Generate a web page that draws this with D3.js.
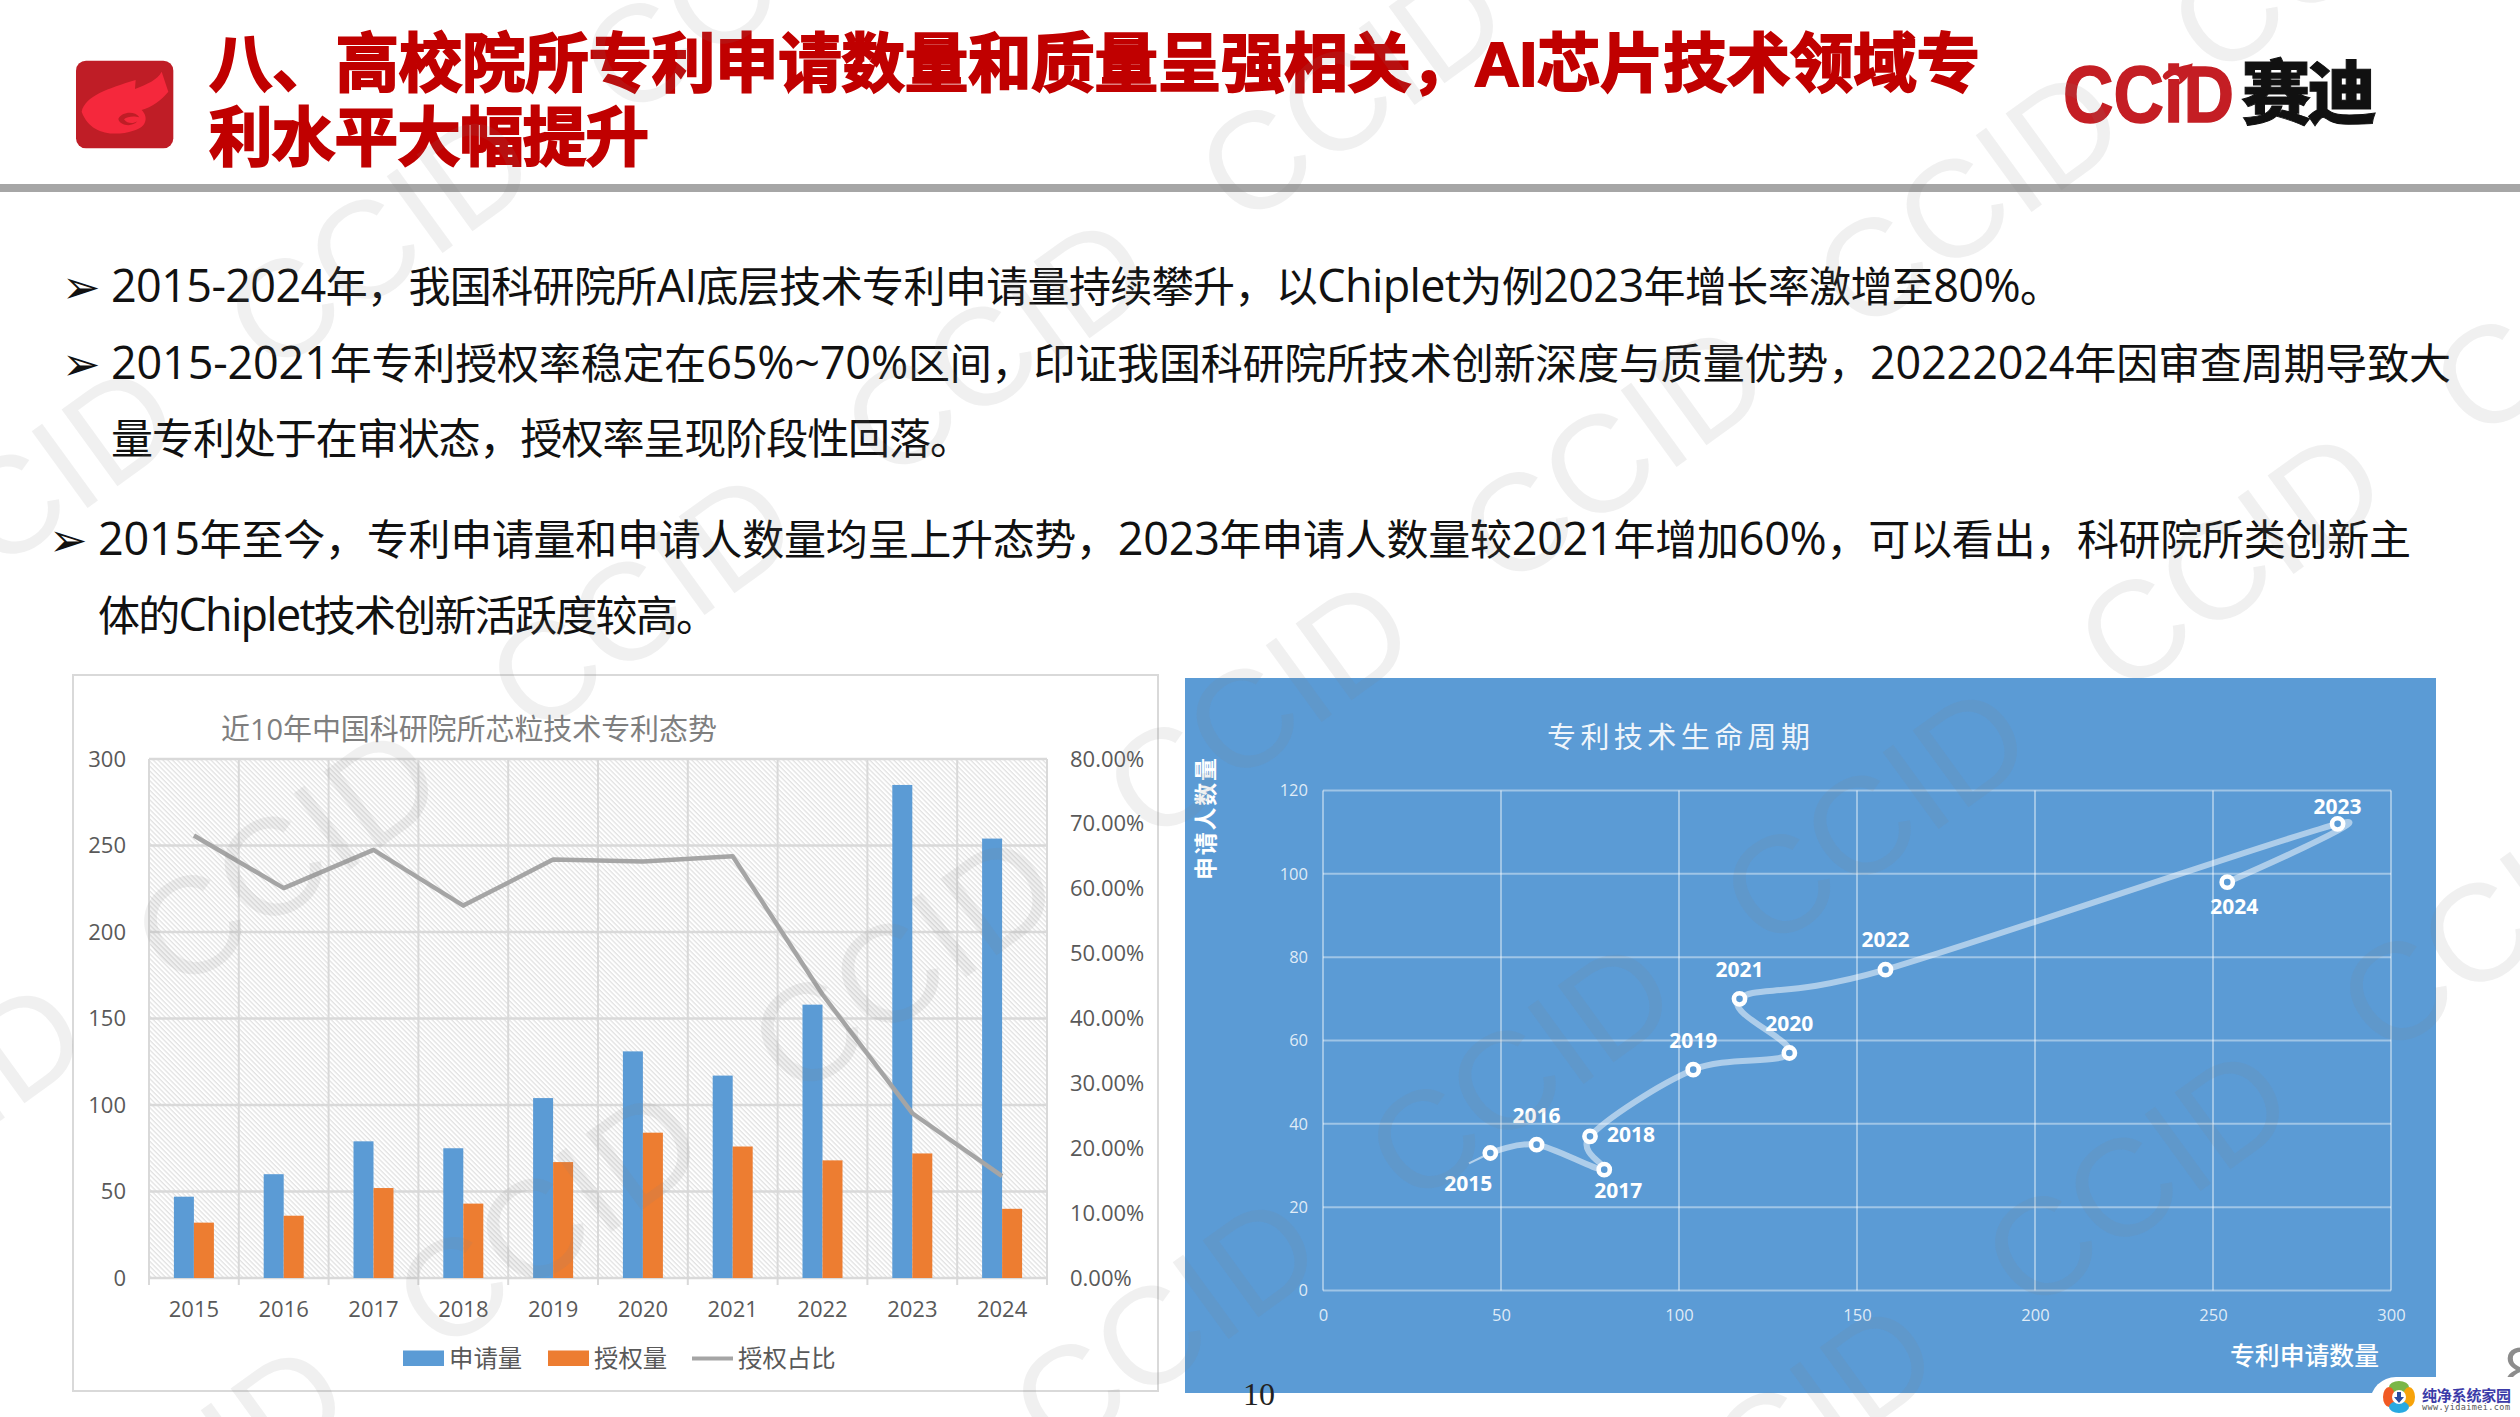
<!DOCTYPE html>
<html lang="zh-CN">
<head>
<meta charset="utf-8">
<title>高校院所专利</title>
<script src="https://cdn.jsdelivr.net/npm/d3@7/dist/d3.min.js"></script>
<style>
html,body{margin:0;padding:0;background:#fff;overflow:hidden}
svg{display:block}
text{font-family:"Open Sans","Noto Sans CJK SC",sans-serif}
</style>
</head>
<body>
<svg id="c" width="2520" height="1417" viewBox="0 0 2520 1417"></svg>
<script>
const years = ["2015","2016","2017","2018","2019","2020","2021","2022","2023","2024"];
const applied = [47,60,79,75,104,131,117,158,285,254];
const granted = [32,36,52,43,67,84,76,68,72,40];
const grantRatio = [0.682,0.601,0.66,0.574,0.645,0.642,0.65,0.437,0.254,0.157];
const applicants = [33,35,29,37,53,57,70,77,112,98];
const leadX = [41], leadY = [30.5];
const leftTicks = [0,50,100,150,200,250,300];
const rightTicks = [0,0.1,0.2,0.3,0.4,0.5,0.6,0.7,0.8];
const lifeXTicks = [0,50,100,150,200,250,300];
const lifeYTicks = [0,20,40,60,80,100,120];
const barSeries = ["申请量","授权量"];
const barColors = ["#5b9bd5","#ed7d31"];
const titleLines = ["八、高校院所专利申请数量和质量呈强相关，AI芯片技术领域专","利水平大幅提升"];
const bodyLines = [
 "2015-2024年，我国科研院所AI底层技术专利申请量持续攀升，以Chiplet为例2023年增长率激增至80%。",
 "2015-2021年专利授权率稳定在65%~70%区间，印证我国科研院所技术创新深度与质量优势，20222024年因审查周期导致大",
 "量专利处于在审状态，授权率呈现阶段性回落。",
 "2015年至今，专利申请量和申请人数量均呈上升态势，2023年申请人数量较2021年增加60%，可以看出，科研院所类创新主",
 "体的Chiplet技术创新活跃度较高。"
];

const svg = d3.select("#c");
const defs = svg.append("defs");
const hatch = defs.append("pattern").attr("id","hatch").attr("width",3.4).attr("height",3.4)
  .attr("patternUnits","userSpaceOnUse").attr("patternTransform","rotate(45)");
hatch.append("rect").attr("width",3.4).attr("height",3.4).attr("fill","#fff");
hatch.append("rect").attr("width",3.4).attr("height",1.3).attr("fill","#e2e2e2");

/* ---------- header ---------- */
const head = svg.append("g");
const logo = head.append("g").attr("transform","translate(40,20) scale(.3333)");
logo.append("rect").attr("x",108).attr("y",122).attr("width",292).attr("height",263).attr("rx",30).attr("fill","#bf1d26");
logo.append("path").attr("fill","#f5283c")
  .attr("d","M125 275C135 228 205 205 287 180L285 207C322 192 352 180 365 155L385 215C365 240 335 262 305 270C325 290 322 322 280 332C225 350 150 345 125 275Z");
logo.append("path").attr("fill","#bf1d26")
  .attr("d","M235 297C245 275 285 272 298 292C285 288 262 288 252 298C262 312 280 312 292 304C278 322 240 318 235 297Z");

titleLines.forEach((t,i)=>{
  head.append("text").text(t).attr("x",209).attr("y",i?160:86)
    .attr("font-size",63.5).attr("font-weight",700).attr("fill","#c00000").attr("stroke","#c00000").attr("stroke-width",2)
    .attr("textLength",i?440:1771).attr("lengthAdjust","spacing")
    .style("font-family",'"Liberation Sans","Noto Sans CJK SC",sans-serif');
});
head.append("text").text("CCiD").attr("x",2063).attr("y",122).attr("font-size",80).attr("font-weight",700)
  .attr("fill","#c41e24").attr("stroke","#c41e24").attr("stroke-width",1.5)
  .attr("textLength",171).attr("lengthAdjust","spacingAndGlyphs").style("font-family",'"Liberation Sans",sans-serif');
head.append("path").attr("fill","#c41e24").attr("transform","translate(2030,40) scale(.3333)")
  .attr("d","M398 110C405 85 440 85 488 70C485 100 470 122 445 135C455 110 440 100 425 108C412 115 408 128 398 110Z");
head.append("text").text("赛迪").attr("x",2241).attr("y",119).attr("font-size",70).attr("font-weight",900)
  .attr("fill","#111").attr("stroke","#111").attr("stroke-width",1).attr("textLength",136).attr("lengthAdjust","spacing");
head.append("rect").attr("x",0).attr("y",184).attr("width",2520).attr("height",8).attr("fill","#a6a6a6");

/* ---------- body text ---------- */
const bodyLayout = [
 {x:111,y:302,w:1951,b:66},{x:111,y:379,w:2340,b:66},{x:111,y:454,w:861},
 {x:98,y:555,w:2313,b:53},{x:98,y:631,w:620}
];
bodyLines.forEach((t,i)=>{
  const l = bodyLayout[i];
  const node = svg.append("text").attr("x",l.x).attr("y",l.y).attr("font-size",42).attr("fill","#111")
    .attr("textLength",l.w).attr("lengthAdjust","spacing");
  t.split(/([A-Za-z0-9%~\-]+)/).filter(s=>s.length).forEach(part=>{
    node.append("tspan").text(part).attr("font-size",/^[A-Za-z0-9%~\-]/.test(part)?45:42);
  });
  if(l.b!==undefined) svg.append("text").text("➢").attr("x",l.b-4).attr("y",l.y+1).attr("font-size",46).attr("fill","#111")
    .style("font-family",'"DejaVu Sans",sans-serif');
});

/* ---------- left chart ---------- */
const L = {l:149,r:1047,t:759,b:1278};
const left = svg.append("g");
left.append("rect").attr("x",73).attr("y",675).attr("width",1085).attr("height",716).attr("fill","#fff").attr("stroke","#d9d9d9").attr("stroke-width",2);
const x0 = d3.scaleBand().domain(years).range([L.l,L.r]);
const x1 = d3.scaleBand().domain(barSeries).range([0,x0.bandwidth()]).paddingInner(0).paddingOuter(1.245);
const yL = d3.scaleLinear().domain([0,300]).range([L.b,L.t]);
const yR = d3.scaleLinear().domain([0,0.8]).range([L.b,L.t]);
left.append("rect").attr("x",L.l).attr("y",L.t).attr("width",L.r-L.l).attr("height",L.b-L.t).attr("fill","url(#hatch)");
left.append("g").selectAll("line").data(leftTicks).join("line")
  .attr("x1",L.l).attr("x2",L.r).attr("y1",d=>yL(d)).attr("y2",d=>yL(d)).attr("stroke","#d9d9d9").attr("stroke-width",2.4);
left.append("g").selectAll("line").data(years.concat("end")).join("line")
  .attr("x1",(d,i)=>L.l+i*x0.step()).attr("x2",(d,i)=>L.l+i*x0.step())
  .attr("y1",L.t).attr("y2",L.b+7).attr("stroke","#d9d9d9").attr("stroke-width",2);

const axL = left.append("g").attr("transform",`translate(${L.l},0)`).call(d3.axisLeft(yL).tickValues(leftTicks).tickSize(0).tickPadding(23));
const axR = left.append("g").attr("transform",`translate(${L.r},0)`).call(d3.axisRight(yR).tickValues(rightTicks).tickSize(0).tickPadding(23).tickFormat(d3.format(".2%")));
const axB = left.append("g").attr("transform",`translate(0,${L.b})`).call(d3.axisBottom(x0).tickSize(0).tickPadding(23.5));
[axL,axR,axB].forEach(a=>{a.select(".domain").remove();a.selectAll("text").attr("font-size",22).attr("fill","#595959").style("font-family",'"Open Sans",sans-serif');});

barSeries.forEach((s,k)=>{
  const vals = k?granted:applied;
  left.append("g").selectAll("rect").data(years).join("rect")
    .attr("x",d=>x0(d)+x1(s)).attr("width",x1.bandwidth())
    .attr("y",(d,i)=>yL(vals[i])).attr("height",(d,i)=>yL(0)-yL(vals[i])).attr("fill",barColors[k]);
});
left.append("path").datum(years).attr("fill","none").attr("stroke","#a5a5a5").attr("stroke-width",4.5).attr("stroke-linejoin","round")
  .attr("d",d3.line().x(d=>x0(d)+x0.bandwidth()/2).y((d,i)=>yR(grantRatio[i])));

left.append("text").attr("x",221).attr("y",739.5).attr("font-size",29).attr("fill","#7f7f7f")
  .attr("textLength",496).attr("lengthAdjust","spacing").text("近10年中国科研院所芯粒技术专利态势");

const legendY = 1357.5;
const lg = left.append("g").attr("font-size",24.4).attr("fill","#595959");
[[403,"申请量",barColors[0]],[548,"授权量",barColors[1]]].forEach(([lx,t,c])=>{
  lg.append("rect").attr("x",lx).attr("y",legendY-7).attr("width",41).attr("height",15.5).attr("fill",c);
  lg.append("text").attr("x",lx+46).attr("y",legendY+9).text(t);
});
lg.append("line").attr("x1",692).attr("x2",733).attr("y1",legendY+1).attr("y2",legendY+1).attr("stroke","#a5a5a5").attr("stroke-width",4);
lg.append("text").attr("x",738).attr("y",legendY+9).text("授权占比");

/* ---------- right chart ---------- */
const R = {l:1323,r:2391,t:790.5,b:1290.5};
const right = svg.append("g");
right.append("rect").attr("x",1185).attr("y",678).attr("width",1251).attr("height",715).attr("fill","#5b9bd5");
const xS = d3.scaleLinear().domain([0,300]).range([R.l,R.r]);
const yS = d3.scaleLinear().domain([0,120]).range([R.b,R.t]);
right.append("g").selectAll("line").data(lifeYTicks).join("line")
  .attr("x1",R.l).attr("x2",R.r).attr("y1",d=>yS(d)).attr("y2",d=>yS(d)).attr("stroke","#fff").attr("stroke-opacity",.42).attr("stroke-width",2);
right.append("g").selectAll("line").data(lifeXTicks).join("line")
  .attr("x1",d=>xS(d)).attr("x2",d=>xS(d)).attr("y1",R.t).attr("y2",R.b).attr("stroke","#fff").attr("stroke-opacity",.42).attr("stroke-width",2);
const axX = right.append("g").attr("transform",`translate(0,${R.b})`).call(d3.axisBottom(xS).tickValues(lifeXTicks).tickSize(0).tickPadding(18.5));
const axY = right.append("g").attr("transform",`translate(${R.l},0)`).call(d3.axisLeft(yS).tickValues(lifeYTicks).tickSize(0).tickPadding(15));
[axX,axY].forEach(a=>{a.select(".domain").remove();a.selectAll("text").attr("font-size",16.5).attr("fill","#fff").attr("fill-opacity",.82).style("font-family",'"Open Sans",sans-serif');});

right.append("path").datum(leadX.map((d,i)=>[d,leadY[i]]).concat([[applied[0],applicants[0]]]))
  .attr("fill","none").attr("stroke","#fff").attr("stroke-opacity",.55).attr("stroke-width",2)
  .attr("d",d3.line().x(d=>xS(d[0])).y(d=>yS(d[1])));
right.append("path").datum(years).attr("fill","none").attr("stroke","#fff").attr("stroke-opacity",.5).attr("stroke-width",6).attr("stroke-linecap","round")
  .attr("d",d3.line().x((d,i)=>xS(applied[i])).y((d,i)=>yS(applicants[i])).curve(d3.curveCatmullRom.alpha(0)));
right.append("g").selectAll("circle").data(years).join("circle")
  .attr("cx",(d,i)=>xS(applied[i])).attr("cy",(d,i)=>yS(applicants[i])).attr("r",5.6)
  .attr("fill","#5b9bd5").attr("stroke","#fff").attr("stroke-width",4.6);

const labelShift = {"2015":[-22,30],"2016":[0,-30],"2017":[14,20],"2018":[41,-2],"2019":[0,-30],"2020":[0,-30],"2021":[0,-30],"2022":[0,-31],"2023":[0,-18],"2024":[7,24]};
right.append("g").selectAll("text").data(years).join("text").text(d=>d)
  .attr("x",(d,i)=>xS(applied[i])+labelShift[d][0]).attr("y",(d,i)=>yS(applicants[i])+labelShift[d][1]+8)
  .attr("text-anchor","middle").attr("font-size",21).attr("font-weight",700).attr("fill","#fff");

right.append("text").text("专利技术生命周期").attr("x",1547).attr("y",747.5).attr("font-size",29).attr("fill","#fff").attr("fill-opacity",.92)
  .attr("textLength",263).attr("lengthAdjust","spacing");
right.append("text").text("专利申请数量").attr("x",2230).attr("y",1365).attr("font-size",24.8).attr("font-weight",500).attr("fill","#fff")
  .attr("textLength",149).attr("lengthAdjust","spacing");
right.append("text").text("申请人数量").attr("transform","translate(1214,880) rotate(-90)").attr("font-size",23).attr("font-weight",700).attr("fill","#fff")
  .attr("textLength",122).attr("lengthAdjust","spacing");

/* ---------- page furniture ---------- */
svg.append("text").text("10").attr("x",1243).attr("y",1405).attr("font-size",32).attr("fill","#222").style("font-family",'"Liberation Serif",serif');
svg.append("text").text("8").attr("x",2503).attr("y",1394).attr("font-size",64).attr("fill","#8c8c8c");

/* ---------- CCID watermark ---------- */
const mark = svg.append("g");
const wmI = d3.range(-6,8), wmJ = d3.range(-3,5);
wmI.forEach(i=>wmJ.forEach(j=>{
  const px = 1350+355*i+262*j, py = 90-255*i+362*j;
  if(px<-200||px>2720||py<-200||py>1620) return;
  mark.append("text").text("CCID").attr("transform",`translate(${px},${py}) rotate(-36)`)
    .attr("text-anchor","middle").attr("dy",50).attr("font-size",138)
    .attr("fill","#808080").attr("fill-opacity",.12).style("font-family",'"Liberation Sans",sans-serif');
}));

/* ---------- corner badge ---------- */
const badge = svg.append("g");
badge.append("rect").attr("x",2370).attr("y",1377).attr("width",170).attr("height",60).attr("rx",26).attr("fill","#fff");
const petal = [[0,-10,"#7ab648"],[-10,0,"#f15a24"],[10,0,"#f7a30a"],[0,10,"#29a9e1"]];
badge.selectAll("ellipse").data(petal).join("ellipse").attr("cx",d=>2399+d[0]).attr("cy",d=>1397+d[1])
  .attr("rx",d=>d[0]?6:10).attr("ry",d=>d[0]?10:6).attr("fill",d=>d[2]);
badge.append("circle").attr("cx",2399).attr("cy",1397).attr("r",7).attr("fill","#fff");
badge.append("path").attr("d","M2397 1392h4v5h3l-5 6l-5-6h3z").attr("fill","#2b4aa0");
badge.append("text").text("纯净系统家园").attr("x",2422).attr("y",1401).attr("font-size",15).attr("font-weight",700).attr("fill","#3b3ba8")
  .attr("textLength",89).attr("lengthAdjust","spacing");
badge.append("text").text("www.yidaimei.com").attr("x",2422).attr("y",1410).attr("font-size",8.5).attr("fill","#555")
  .attr("textLength",88).attr("lengthAdjust","spacing").style("font-family",'"DejaVu Sans Mono",monospace');
</script>
</body>
</html>
